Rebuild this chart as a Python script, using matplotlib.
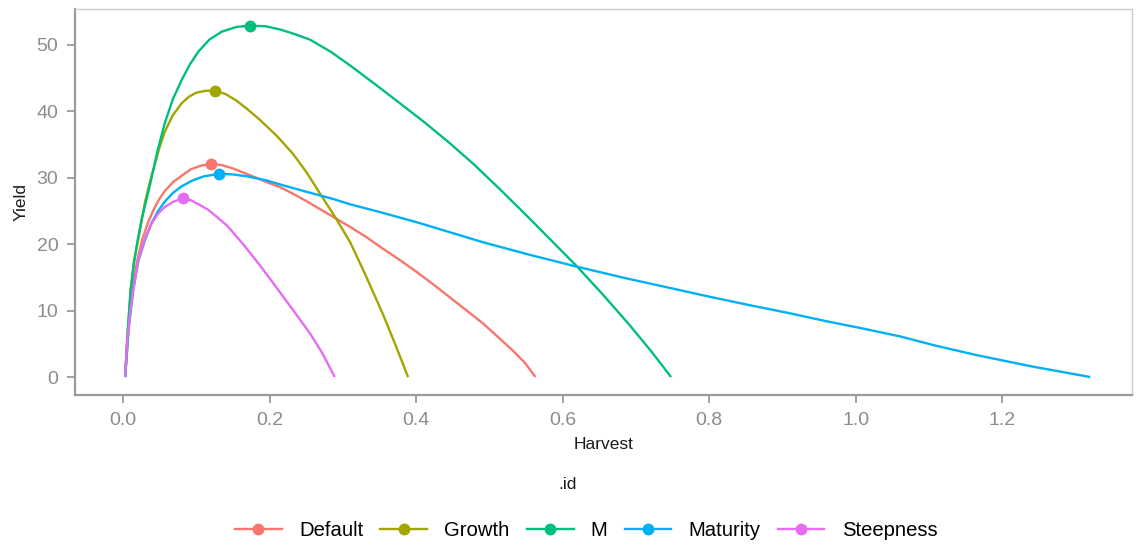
import numpy as np
import matplotlib.pyplot as plt
from matplotlib.lines import Line2D

plt.rcParams['font.family'] = ['Liberation Sans', 'DejaVu Sans']

series = ["Default", "Growth", "M", "Maturity", "Steepness"]
colors = ["#F8766D", "#A3A500", "#00BF7D", "#00B0F6", "#E76BF3"]

# yield curves, harvest rate vs equilibrium yield
default_h = [0.003, 0.007, 0.012, 0.019, 0.026, 0.034, 0.041, 0.049, 0.057, 0.068, 0.080,
             0.093, 0.106, 0.120, 0.135, 0.150, 0.166, 0.182, 0.197, 0.214, 0.232, 0.250,
             0.270, 0.287, 0.310, 0.333, 0.355, 0.378, 0.401, 0.424, 0.446, 0.468, 0.491,
             0.511, 0.530, 0.548, 0.563]
default_y = [0.0, 6.5, 12.5, 17.3, 20.6, 23.2, 25.0, 26.7, 28.0, 29.3, 30.3,
             31.3, 31.8, 32.1, 31.9, 31.4, 30.7, 30.0, 29.3, 28.6, 27.6, 26.5,
             25.2, 24.1, 22.6, 21.0, 19.3, 17.6, 15.8, 13.9, 12.0, 10.1, 8.1,
             6.1, 4.2, 2.2, 0.0]

growth_h = [0.003, 0.006, 0.0105, 0.015, 0.021, 0.030, 0.037, 0.044, 0.050, 0.057, 0.068,
            0.080, 0.090, 0.100, 0.113, 0.126, 0.140, 0.155, 0.170, 0.187, 0.210, 0.232,
            0.250, 0.269, 0.290, 0.310, 0.330, 0.355, 0.372, 0.389]
growth_y = [0.0, 6.2, 13.1, 17.4, 20.8, 26.3, 29.5, 32.2, 34.6, 36.9, 39.4,
            41.2, 42.2, 42.8, 43.1, 43.1, 42.6, 41.6, 40.3, 38.7, 36.3, 33.6,
            30.9, 27.6, 24.0, 20.3, 15.6, 9.4, 4.8, 0.0]

m_h = [0.003, 0.006, 0.0105, 0.015, 0.020, 0.026, 0.032, 0.037, 0.047, 0.057, 0.068,
       0.080, 0.091, 0.103, 0.118, 0.135, 0.155, 0.174, 0.195, 0.215, 0.235, 0.255,
       0.283, 0.310, 0.345, 0.378, 0.412, 0.446, 0.480, 0.515, 0.550, 0.585, 0.620,
       0.655, 0.690, 0.720, 0.748]
m_y = [0.0, 6.2, 13.1, 17.2, 20.6, 24.0, 26.7, 29.0, 34.0, 38.2, 41.8,
       44.7, 47.0, 49.0, 50.8, 52.0, 52.7, 52.9, 52.8, 52.3, 51.6, 50.8,
       49.0, 46.9, 44.0, 41.2, 38.3, 35.2, 31.9, 28.2, 24.4, 20.5, 16.6,
       12.4, 8.0, 4.0, 0.0]

maturity_h = [0.003, 0.008, 0.014, 0.021, 0.030, 0.039, 0.048, 0.057, 0.068, 0.080, 0.095,
              0.110, 0.1315, 0.150, 0.170, 0.196, 0.214, 0.250, 0.287, 0.310, 0.345, 0.378,
              0.401, 0.446, 0.491, 0.555, 0.620, 0.685, 0.747, 0.800, 0.856, 0.910, 0.960,
              1.010, 1.061, 1.110, 1.165, 1.240, 1.320]
maturity_y = [0.0, 7.5, 13.1, 17.5, 20.6, 23.2, 25.0, 26.4, 27.7, 28.7, 29.6,
              30.2, 30.6, 30.5, 30.2, 29.6, 29.0, 27.9, 26.8, 26.0, 25.0, 24.0,
              23.3, 21.8, 20.3, 18.4, 16.6, 14.9, 13.4, 12.1, 10.8, 9.6, 8.4,
              7.3, 6.1, 4.7, 3.3, 1.6, 0.0]

steep_h = [0.003, 0.006, 0.010, 0.014, 0.021, 0.030, 0.039, 0.048, 0.057, 0.069, 0.0815,
           0.093, 0.105, 0.116, 0.126, 0.142, 0.164, 0.187, 0.210, 0.232, 0.255, 0.272,
           0.289]
steep_y = [0.0, 5.6, 9.8, 13.1, 17.6, 20.9, 23.1, 24.6, 25.6, 26.4, 26.9,
           26.6, 25.9, 25.2, 24.3, 22.8, 20.0, 16.8, 13.4, 10.1, 6.6, 3.6,
           0.0]

# maximum sustainable yield for each scenario
msy_h = [0.120, 0.126, 0.174, 0.1315, 0.0815]
msy_y = [32.1, 43.1, 52.9, 30.6, 26.9]

curves_h = [default_h, growth_h, m_h, maturity_h, steep_h]
curves_y = [default_y, growth_y, m_y, maturity_y, steep_y]

fig = plt.figure(figsize=(11.36, 5.46), dpi=100)
ax = fig.add_axes([0.066, 0.2766, 0.9305, 0.7069])

for h, y, c in zip(curves_h, curves_y, colors):
    ax.plot(h, y, color=c, linewidth=1.7, solid_capstyle='butt', solid_joinstyle='round')
for h, y, c in zip(msy_h, msy_y, colors):
    ax.plot(h, y, 'o', color=c, markersize=7.5)

ax.set_xlim(-0.0655, 1.377)
ax.set_ylim(-2.7, 55.4)
ax.set_xticks([0.0, 0.2, 0.4, 0.6, 0.8, 1.0, 1.2])
ax.set_xticklabels(["0.0", "0.2", "0.4", "0.6", "0.8", "1.0", "1.2"])
ax.set_yticks([0, 10, 20, 30, 40, 50])

grey = "#9a9a9a"
for side in ['left', 'bottom']:
    ax.spines[side].set_color(grey)
    ax.spines[side].set_linewidth(1.6)
for side in ['top', 'right']:
    ax.spines[side].set_color("#cccccc")
    ax.spines[side].set_linewidth(1.0)
ax.tick_params(axis='both', colors=grey, labelcolor="#8c8c8c", labelsize=14,
               length=6, width=1.3, pad=6)

ax.set_xlabel("Harvest", fontsize=12.5, color="#1a1a1a", labelpad=6)
ax.set_ylabel("Yield", fontsize=12.5, color="#1a1a1a", labelpad=6)

fig.text(0.5, 0.112, ".id", ha='center', va='center', fontsize=12.5, color="#1a1a1a")

handles = [Line2D([0], [0], color=c, linewidth=1.7, marker='o', markersize=7.5)
           for c in colors]
fig.legend(handles, series, loc='center', bbox_to_anchor=(0.516, 0.029), ncol=5,
           frameon=False, fontsize=14.6, handlelength=2.3, handletextpad=0.85,
           columnspacing=0.85)

fig.savefig("out.png", dpi=100)
